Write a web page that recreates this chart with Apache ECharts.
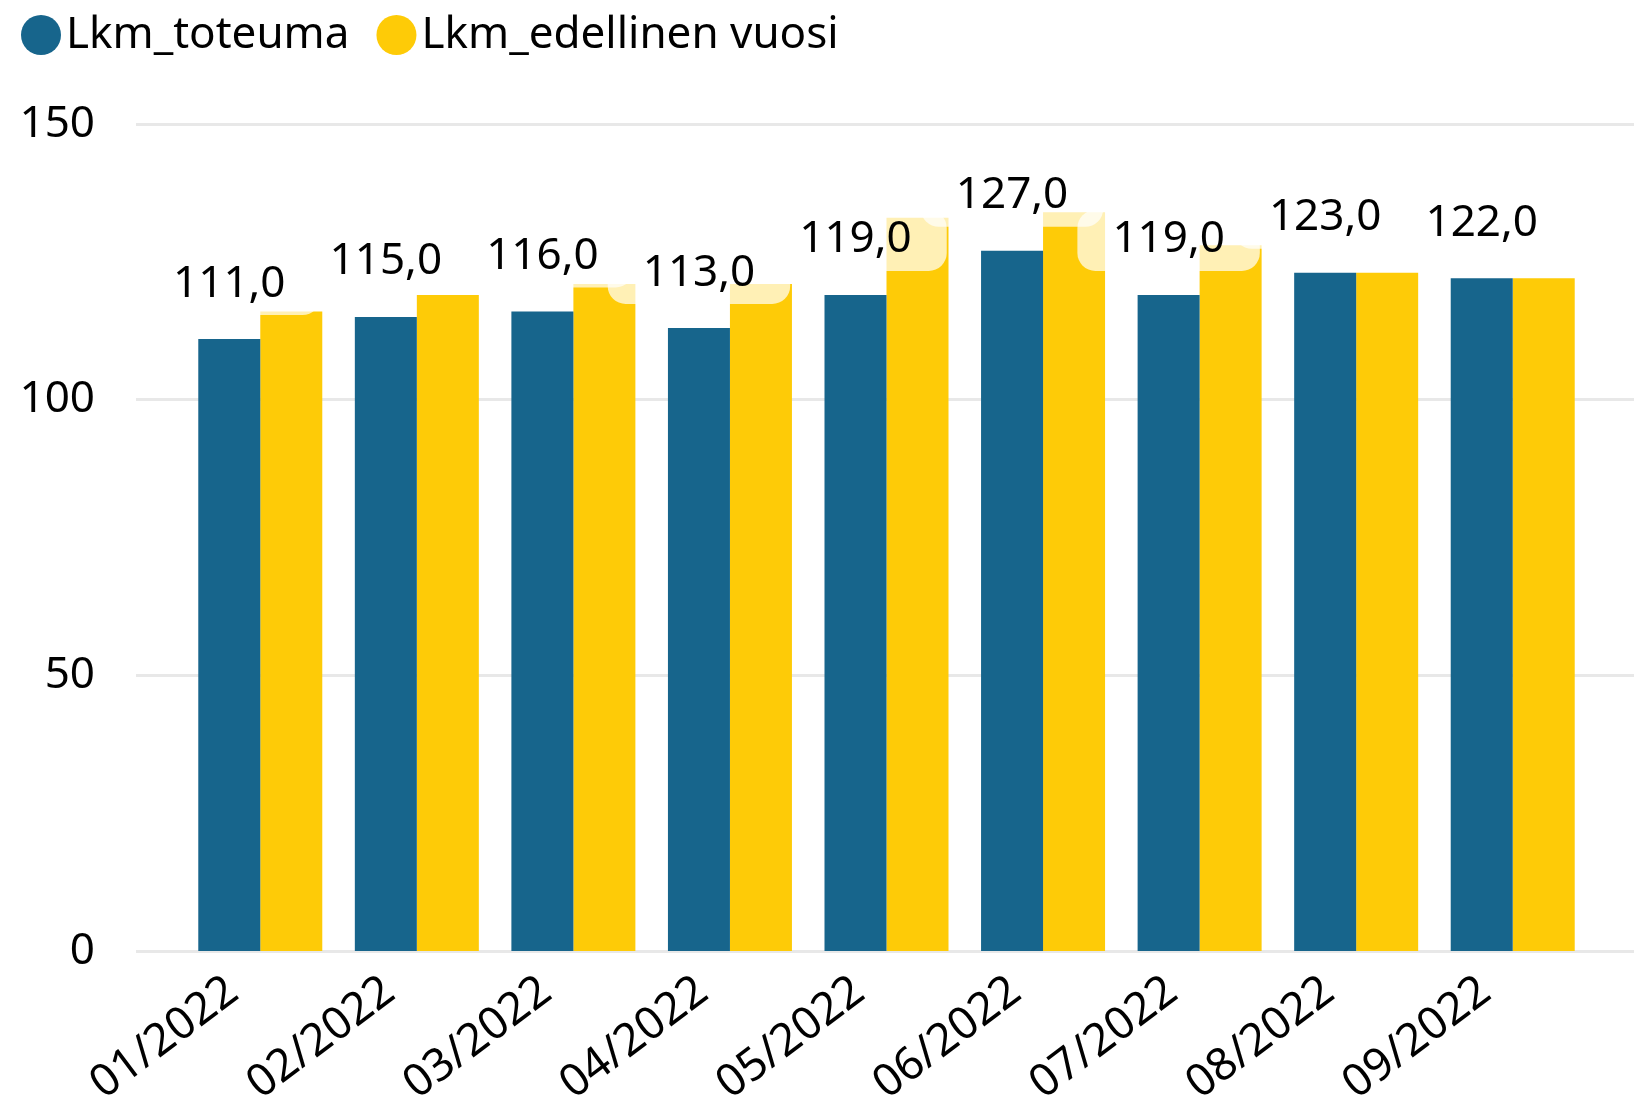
<!DOCTYPE html>
<html>
<head>
<meta charset="utf-8">
<script src="https://cdn.jsdelivr.net/npm/echarts@6/dist/echarts.min.js"></script>
<style>
html,body{margin:0;padding:0;background:#fff;}
#chart{width:1634px;height:1118px;}
</style>
</head>
<body>
<div id="chart"></div>
<script>
const categories = ['01/2022','02/2022','03/2022','04/2022','05/2022','06/2022','07/2022','08/2022','09/2022'];
const toteuma = [111,115,116,113,119,127,119,123,122];
const edellinenVuosi = [116,119,121,121,133,134,128,123,122];
const seriesNames = ['Lkm_toteuma','Lkm_edellinen vuosi'];
const yMin = 0, yMax = 150, yInterval = 50;

const FONT = '"Noto Sans", "Open Sans", sans-serif';
const chart = echarts.init(document.getElementById('chart'), null, {renderer:'canvas'});
const option = {
  animation: false,
  backgroundColor: '#ffffff',
  textStyle: {fontFamily: FONT},
  legend: {
    left: 16, top: 8,
    icon: 'circle', itemWidth: 40, itemHeight: 40, itemGap: 27,
    textStyle: {fontSize: 44, color: '#000', fontFamily: FONT},
    data: seriesNames
  },
  grid: [
    {left: 136, right: 0, top: 124, bottom: 167},
    {left: 182, right: 43, top: 124, bottom: 167}
  ],
  xAxis: [
    {gridIndex: 0, type: 'value', min: 0, max: 1, show: false},
    {gridIndex: 1, type: 'category', data: categories,
     axisLine: {show: false}, axisTick: {show: false},
     axisLabel: {rotate: 37, fontSize: 45, color: '#000', fontFamily: FONT, margin: 15, padding: [0, 34, 0, 0], interval: 0}}
  ],
  yAxis: [
    {gridIndex: 0, type: 'value', min: yMin, max: yMax, interval: yInterval,
     axisLine: {show: false}, axisTick: {show: false},
     axisLabel: {fontSize: 44, color: '#000', fontFamily: FONT, margin: 41},
     splitLine: {lineStyle: {color: '#e8e8e8', width: 3}}},
    {gridIndex: 1, type: 'value', min: yMin, max: yMax, interval: yInterval, show: false, splitLine: {show: false}}
  ],
  series: [
    {name: seriesNames[0], type: 'bar', xAxisIndex: 1, yAxisIndex: 1, data: toteuma,
     barWidth: 62, barGap: '0%', z: 3,
     itemStyle: {color: '#17658c'},
     label: {show: true, position: 'top', distance: 24,
       formatter: p => p.value.toFixed(1).replace('.', ','),
       fontSize: 44, lineHeight: 44, color: '#000', fontFamily: FONT,
       backgroundColor: 'rgba(255,255,255,0.7)', borderRadius: 18, padding: [8, 35, 9, 35]}},
    {name: seriesNames[1], type: 'bar', xAxisIndex: 1, yAxisIndex: 1, data: edellinenVuosi,
     barWidth: 62, barGap: '0%', z: 2,
     itemStyle: {color: '#fecb07'}}
  ]
};
chart.setOption(option);
</script>
</body>
</html>
